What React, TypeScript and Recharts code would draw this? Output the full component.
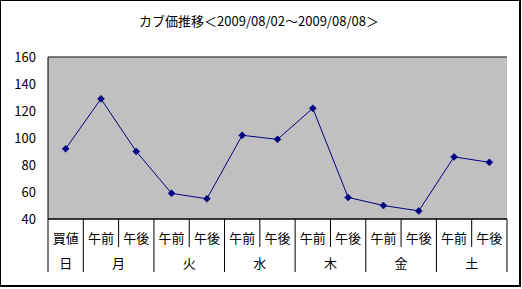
import React from 'react';
import { LineChart, Line, XAxis, YAxis, CartesianGrid, ReferenceLine } from 'recharts';

const subLabels = ['買値', '午前', '午後', '午前', '午後', '午前', '午後', '午前', '午後', '午前', '午後', '午前', '午後'];
const dayLabels = ['日', '月', '月', '火', '火', '水', '水', '木', '木', '金', '金', '土', '土'];
const prices = [92, 129, 90, 59, 55, 102, 99, 122, 56, 50, 46, 86, 82];
const yTicks = [40, 60, 80, 100, 120, 140, 160];
const title = 'カブ価推移＜2009/08/02～2009/08/08＞';

const data = prices.map((v, i) => ({ key: String(i), sub: subLabels[i], day: dayLabels[i], price: v }));

const W = 521;
const H = 287;
const M = { top: 57, right: 14, left: 0, bottom: 0 };
const Y_W = 48;
const X_H = 68;
const PLOT_W = W - M.left - M.right - Y_W;
const BAND = PLOT_W / data.length;
const FONT = '"Noto Sans CJK JP", "Noto Sans", sans-serif';

const XTick = (props: any) => {
  const { x, y, payload } = props;
  const i = payload?.index ?? props.index ?? 0;
  const half = BAND / 2;
  const isDayStart = i === 0 || dayLabels[i] !== dayLabels[i - 1];
  const isLast = i === data.length - 1;
  const nextDayStart = isLast || dayLabels[i + 1] !== dayLabels[i];
  const shortEnd = y + 28;
  const longEnd = y + 53;
  let dayX: number | null = null;
  if (isDayStart && nextDayStart) dayX = x;
  else if (!isDayStart) dayX = x - half;
  return (
    <g>
      <line x1={x - half} y1={y} x2={x - half} y2={isDayStart ? longEnd : shortEnd} stroke="#000" strokeWidth={1} />
      {isLast && <line x1={x + half} y1={y} x2={x + half} y2={longEnd} stroke="#000" strokeWidth={1} />}
      <text x={x} y={y + 24} textAnchor="middle" fontSize={13} fontFamily={FONT} fill="#000">{subLabels[i]}</text>
      {dayX !== null && (
        <text x={dayX} y={y + 49} textAnchor="middle" fontSize={13} fontFamily={FONT} fill="#000">{dayLabels[i]}</text>
      )}
    </g>
  );
};

const Diamond = (props: any) => {
  const { cx, cy, index } = props;
  if (cx == null || cy == null) return <g key={`d${index}`} />;
  const s = 3.5;
  return (
    <polygon
      key={`d${index}`}
      points={`${cx},${cy - s} ${cx + s},${cy} ${cx},${cy + s} ${cx - s},${cy}`}
      fill="#000080"
      stroke="#000080"
      strokeWidth={0.5}
    />
  );
};

export default function App() {
  return (
    <div style={{ position: 'absolute', left: 0, top: 0, width: W, height: H, background: '#fff' }}>
      <div
        style={{
          position: 'absolute',
          left: 0,
          top: 13,
          width: 518,
          textAlign: 'center',
          fontFamily: FONT,
          fontSize: 13,
          lineHeight: '16px',
          color: '#000',
        }}
      >
        {title}
      </div>
      <LineChart width={W} height={H} data={data} margin={M}>
        <CartesianGrid horizontal vertical={false} stroke="#000" strokeWidth={1} fill="#C0C0C0" fillOpacity={1} />
        <XAxis
          dataKey="key"
          height={X_H}
          padding={{ left: BAND / 2, right: BAND / 2 }}
          axisLine={{ stroke: '#000' }}
          tickLine={false}
          tickSize={0}
          tickMargin={0}
          interval={0}
          tick={<XTick />}
        />
        <YAxis
          yAxisId="l"
          width={Y_W}
          domain={[40, 160]}
          ticks={yTicks}
          interval={0}
          axisLine={{ stroke: '#000' }}
          tickLine={false}
          tickSize={0}
          tickMargin={12}
          tick={{ fontSize: 13, fontFamily: FONT, fill: '#000' }}
        />
        <YAxis
          yAxisId="r"
          orientation="right"
          width={0}
          domain={[40, 160]}
          ticks={yTicks}
          tick={false}
          tickLine={false}
          axisLine={{ stroke: '#808080' }}
        />
        <ReferenceLine yAxisId="l" y={160} stroke="#808080" strokeWidth={1} />
        <Line
          yAxisId="l"
          type="linear"
          dataKey="price"
          stroke="#000080"
          strokeWidth={1}
          dot={<Diamond />}
          activeDot={false}
          isAnimationActive={false}
        />
      </LineChart>
      <div
        style={{
          position: 'absolute',
          left: 0,
          top: 0,
          width: 518,
          height: 284,
          borderTop: '1px solid #000',
          borderLeft: '1px solid #000',
          borderRight: '2px solid #000',
          borderBottom: '2px solid #000',
          pointerEvents: 'none',
        }}
      />
    </div>
  );
}
